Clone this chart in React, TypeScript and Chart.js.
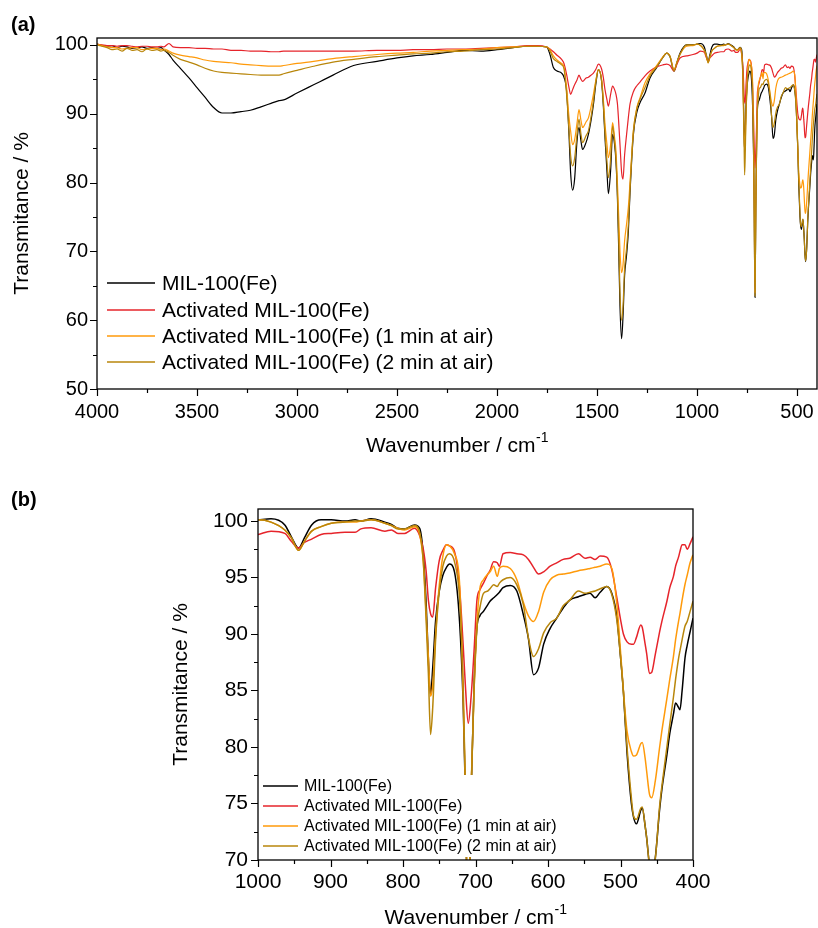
import React, { useEffect, useRef } from 'react';
import { Chart, registerables } from 'chart.js';

Chart.register(...registerables);

const FONT = '"Liberation Sans", Arial, Helvetica, sans-serif';

// ---------------- DATA ----------------
const wavenumbers = [
  4000, 3975, 3950, 3925, 3900, 3875, 3850, 3825, 3800, 3775,
  3750, 3725, 3700, 3680, 3667, 3640, 3620, 3583, 3540, 3500,
  3460, 3417, 3375, 3330, 3280, 3233, 3180, 3130, 3090, 3067,
  3000, 2917, 2820, 2717, 2600, 2500, 2420, 2333, 2250, 2167,
  2080, 2000, 1920, 1850,
  1800, 1752, 1735, 1718, 1700, 1677, 1665, 1652, 1640, 1632,
  1622, 1612, 1600, 1590, 1580, 1572, 1555, 1543, 1530, 1518,
  1505, 1493, 1477, 1468, 1460, 1450, 1443, 1432, 1422, 1412,
  1405, 1398, 1392, 1385, 1377, 1370, 1362, 1352, 1343, 1335,
  1318, 1300, 1285, 1260, 1235, 1202, 1170, 1152, 1135, 1115,
  1100, 1085, 1052, 1020,
  1000, 982, 963, 954, 944, 936, 926, 913, 899, 880,
  866, 858, 844, 825, 816, 807, 798, 784, 777, 772,
  768, 765, 762, 759, 755, 750, 745, 740, 736, 729,
  722, 717, 714, 710, 706, 702, 698, 694, 689, 683,
  680, 675, 670, 667, 662, 652, 643, 634, 627, 620,
  613, 606, 597, 588, 579, 570, 558, 549, 542, 535,
  528, 519, 512, 505, 500, 496, 491, 485, 482, 478,
  472, 470, 466, 464, 460, 457, 452, 446, 443, 436,
  432, 427, 424, 420, 418, 415, 411, 408, 404, 400,
];

const mil100 = [
  100.1, 99.9, 99.8, 99.9, 99.6, 99.8, 99.7, 99.5, 99.6, 99.7,
  99.5, 99.6, 99.5, 99.6, 99.3, 98.6, 97.8, 96.6, 95.2, 93.8,
  92.4, 90.9, 90.1, 90.1, 90.3, 90.5, 91.0, 91.5, 91.9, 92.0,
  93.0, 94.2, 95.6, 97.0, 97.6, 98.1, 98.4, 98.6, 98.9, 99.2,
  99.1, 99.3, 99.6, 99.8,
  99.8, 99.7, 98.6, 96.7, 96.2, 95.9, 95.3, 93.3, 87.0, 81.5,
  78.9, 80.5, 86.0, 88.0, 86.0, 84.8, 85.8, 87.0, 89.0, 91.3,
  94.5, 96.4, 94.7, 91.0, 86.5, 81.5, 78.4, 81.7, 87.0, 85.5,
  83.0, 78.0, 71.0, 62.0, 57.3, 60.5, 66.5, 69.5, 73.0, 78.5,
  87.0, 90.3, 91.6, 93.0, 95.2, 96.7, 98.2, 98.8, 98.3, 96.2,
  97.5, 98.8, 100.0, 100.0,
  100.1, 100.2, 99.65, 98.6, 97.6, 98.5, 99.65, 100.1, 100.1, 100.0,
  100.1, 100.0, 100.2, 99.9, 99.7, 99.35, 99.3, 99.65, 99.35, 97.0,
  92.6, 87.8, 84.6, 87.0, 91.2, 93.8, 95.2, 95.9, 96.2, 95.5,
  91.1, 83.8, 76.0, 63.3, 76.0, 85.5, 90.6, 91.6, 92.0, 92.6,
  92.9, 93.2, 93.5, 93.7, 94.1, 94.3, 93.8, 91.7, 89.6, 86.4,
  87.0, 89.1, 90.5, 91.4, 92.3, 93.0, 93.3, 93.5, 93.6, 93.2,
  93.7, 94.2, 93.6, 91.5, 88.0, 84.9, 79.5, 75.0, 73.8, 73.2,
  74.4, 74.6, 73.0, 72.0, 69.5, 68.5, 70.2, 74.5, 76.2, 79.3,
  81.2, 82.9, 83.9, 83.5, 83.3, 85.0, 87.9, 89.0, 90.2, 91.4,
];

const activated = [
  100.1, 100.0, 99.9, 99.9, 99.8, 99.9, 99.9, 99.8, 99.7, 99.8,
  99.8, 99.7, 99.7, 99.8, 99.7, 100.2, 99.7, 99.6, 99.6, 99.5,
  99.5, 99.4, 99.4, 99.2, 99.2, 99.1, 99.1, 99.0, 99.0, 99.1,
  99.1, 99.1, 99.1, 99.1, 99.2, 99.2, 99.3, 99.3, 99.4, 99.4,
  99.5, 99.6, 99.7, 99.9,
  99.9, 99.7, 99.4, 99.0, 98.5, 97.9, 97.3, 95.7, 93.8, 92.8,
  93.5, 94.2, 94.9, 95.6, 95.0, 94.7, 95.2, 95.3, 95.6, 95.9,
  96.5, 97.2, 96.5, 95.2, 93.5, 92.0, 91.1, 92.8, 94.0, 93.5,
  92.8, 91.5, 89.0, 85.5, 81.5, 80.5, 84.0, 87.0, 89.5, 91.4,
  93.2, 94.1, 94.6, 95.5, 96.2, 96.8, 97.1, 97.2, 97.0, 96.2,
  97.2, 98.1, 98.4, 98.6,
  98.8, 99.1, 98.9, 98.2, 97.6, 98.1, 98.4, 98.8, 98.9, 99.0,
  99.0, 99.3, 99.4, 99.1, 99.2, 98.9, 98.9, 99.35, 98.7, 97.5,
  95.5, 93.0, 91.8, 91.5, 94.1, 96.5, 97.4, 97.9, 97.8, 97.3,
  94.1, 89.0, 85.5, 82.1, 84.5, 88.5, 93.0, 93.9, 94.5, 95.3,
  95.6, 96.4, 96.3, 96.0, 97.1, 97.2, 97.1, 97.0, 96.6, 95.9,
  95.3, 95.5, 96.0, 96.3, 96.6, 96.7, 97.1, 96.7, 96.8, 96.6,
  96.9, 96.8, 95.7, 93.2, 91.3, 90.0, 89.3, 89.1, 89.1, 89.7,
  90.8, 90.6, 89.1, 88.3, 86.5, 86.6, 88.2, 90.2, 91.1, 92.9,
  94.1, 95.1, 96.0, 96.8, 97.3, 97.9, 97.9, 97.5, 98.0, 98.6,
];

const activated1min = [
  100.1, 99.9, 99.7, 99.6, 99.6, 99.4, 99.5, 99.6, 99.6, 99.3,
  99.4, 99.5, 99.5, 99.3, 99.4, 99.1, 98.8, 98.5, 98.3, 98.1,
  97.8, 97.6, 97.5, 97.4, 97.2, 97.1, 97.0, 96.9, 96.9, 97.0,
  97.3, 97.6, 98.0, 98.3, 98.6, 98.8, 98.9, 99.1, 99.2, 99.3,
  99.4, 99.6, 99.7, 99.8,
  99.8, 99.7, 99.3, 98.4, 97.8, 97.3, 96.8, 93.8, 89.5, 87.5,
  85.5, 86.2, 88.6, 90.6, 89.0, 88.0, 88.8, 89.4, 91.0, 92.8,
  95.0, 96.4, 95.0, 92.0, 88.5, 85.5, 83.6, 85.5, 88.7, 86.5,
  84.5, 80.0, 75.5, 70.0, 66.9, 68.0, 71.5, 74.0, 76.5, 80.0,
  87.5, 91.0, 92.3, 94.5, 95.8, 97.0, 98.3, 98.8, 98.4, 96.4,
  97.5, 98.6, 99.8, 99.9,
  100.1, 99.9, 99.2, 98.5, 97.4, 98.2, 99.1, 99.5, 99.8, 99.9,
  99.9, 100.0, 100.1, 99.8, 99.6, 99.35, 99.2, 99.5, 98.8, 96.4,
  91.7, 88.0, 84.5, 85.5, 90.0, 94.3, 96.9, 97.9, 97.8, 97.1,
  94.5, 84.5, 76.5, 64.0, 76.5, 85.0, 91.0, 94.0, 94.8, 95.3,
  95.5, 96.0, 95.1, 95.8, 96.0, 95.8, 94.8, 92.8, 91.6, 91.1,
  92.0, 93.7, 94.8, 95.2, 95.3, 95.4, 95.6, 95.7, 95.8, 95.9,
  96.0, 96.2, 95.8, 92.6, 88.5, 85.0, 81.4, 79.6, 79.2, 79.3,
  80.3, 80.4, 79.0, 77.9, 75.8, 75.5, 77.0, 80.0, 81.4, 84.3,
  86.0, 88.0, 89.5, 91.1, 91.8, 93.0, 94.4, 95.2, 96.3, 97.0,
];

const activated2min = [
  100.0, 99.8, 99.6, 99.3, 99.4, 99.1, 99.5, 99.2, 99.3, 99.0,
  99.4, 99.2, 99.3, 99.1, 99.2, 98.9, 98.5, 97.9, 97.5, 97.1,
  96.6, 96.2, 96.0, 95.9, 95.8, 95.7, 95.6, 95.6, 95.6, 95.8,
  96.3, 96.9, 97.5, 97.9, 98.3, 98.5, 98.7, 98.8, 99.0, 99.1,
  99.3, 99.4, 99.6, 99.8,
  99.8, 99.7, 99.1, 98.0, 97.6, 97.1, 96.5, 92.8, 87.5, 84.0,
  82.4, 83.5, 87.0, 89.2, 87.0, 85.8, 86.8, 87.5, 89.5, 91.8,
  94.8, 96.4, 94.9, 91.5, 87.2, 83.0, 80.7, 83.4, 88.2, 86.0,
  83.5, 78.5, 72.5, 64.0, 60.0, 62.0, 67.5, 70.5, 74.0, 79.0,
  87.5, 90.8, 92.1, 93.8, 95.5, 96.8, 98.2, 98.8, 98.3, 96.2,
  97.5, 98.6, 100.0, 100.0,
  100.1, 99.9, 99.2, 98.5, 97.4, 98.2, 99.1, 99.5, 99.8, 99.9,
  100.0, 100.0, 100.1, 99.8, 99.6, 99.3, 99.3, 99.6, 99.0, 96.4,
  91.1, 86.5, 81.1, 83.5, 89.5, 93.8, 96.0, 96.9, 97.1, 96.4,
  93.2, 85.5, 76.2, 63.5, 76.2, 85.0, 90.5, 92.3, 93.6, 93.8,
  94.0, 94.35, 94.2, 94.5, 94.8, 95.0, 94.35, 92.6, 89.65, 88.0,
  88.7, 90.1, 91.0, 91.4, 92.5, 93.0, 93.8, 93.6, 93.7, 93.8,
  94.0, 94.2, 93.5, 91.2, 88.0, 84.9, 80.0, 75.5, 73.9, 73.6,
  74.6, 74.7, 73.0, 72.0, 69.5, 68.6, 70.1, 74.8, 76.5, 80.0,
  82.0, 84.4, 86.0, 87.8, 88.5, 89.5, 90.7, 91.1, 92.0, 92.9,
];

const seriesLabels = [
  'MIL-100(Fe)',
  'Activated MIL-100(Fe)',
  'Activated MIL-100(Fe) (1 min at air)',
  'Activated MIL-100(Fe) (2 min at air)',
];
const seriesValues = [mil100, activated, activated1min, activated2min];
const seriesColors = ['#000000', '#e6242b', '#ff9a0a', '#b8860b'];

const xTicksA = [4000, 3750, 3500, 3250, 3000, 2750, 2500, 2250, 2000, 1750, 1500, 1250, 1000, 750, 500];
const yTicksA = [50, 55, 60, 65, 70, 75, 80, 85, 90, 95, 100];
const xTicksB = [1000, 950, 900, 850, 800, 750, 700, 650, 600, 550, 500, 450, 400];
const yTicksB = [70, 72.5, 75, 77.5, 80, 82.5, 85, 87.5, 90, 92.5, 95, 97.5, 100];

const xTitle = 'Wavenumber / cm';
const xTitleSup = '-1';
const yTitle = 'Transmitance / %';

// ---------------- PANELS ----------------
type PanelCfg = {
  id: string;
  tag: string;
  tagX: number;
  tagY: number;
  top: number;
  height: number;
  left: number;
  right: number;
  areaTop: number;
  areaBottom: number;
  xMin: number;
  xMax: number;
  yMin: number;
  yMax: number;
  xTicks: number[];
  yTicks: number[];
  xLabelEvery: number;
  yLabelEvery: number;
  tickFont: number;
  xPad: number;
  yPad: number;
  lineWidth: number;
  titleFont: number;
  xTitleY: number;
  yTitleX: number;
  legendX: number;
  legendLen: number;
  legendTextX: number;
  legendRows: number[];
  legendFont: number;
  legendBox: number[] | null;
};

const W = 818;

const panelA: PanelCfg = {
  id: 'a', tag: '(a)', tagX: 11, tagY: 25,
  top: 0, height: 470,
  left: 97, right: 817, areaTop: 38, areaBottom: 389,
  xMin: 400, xMax: 4000, yMin: 50, yMax: 101,
  xTicks: xTicksA, yTicks: yTicksA, xLabelEvery: 500, yLabelEvery: 10,
  tickFont: 20, xPad: 11, yPad: 9, lineWidth: 1.2,
  titleFont: 21, xTitleY: 446, yTitleX: 22,
  legendX: 107, legendLen: 48, legendTextX: 162, legendRows: [283, 310, 336, 362], legendFont: 21,
  legendBox: null,
};

const panelB: PanelCfg = {
  id: 'b', tag: '(b)', tagX: 11, tagY: 30,
  top: 470, height: 458,
  left: 258, right: 693, areaTop: 39, areaBottom: 390,
  xMin: 400, xMax: 1000, yMin: 70, yMax: 101.06,
  xTicks: xTicksB, yTicks: yTicksB, xLabelEvery: 100, yLabelEvery: 5,
  tickFont: 21, xPad: 10, yPad: 10, lineWidth: 1.5,
  titleFont: 21, xTitleY: 448, yTitleX: 181,
  legendX: 263, legendLen: 35, legendTextX: 304, legendRows: [316, 336, 356, 376], legendFont: 16,
  legendBox: [259, 305, 310, 82],
};

function makeDecor(cfg: PanelCfg) {
  return {
    id: 'decor_' + cfg.id,
    afterDatasetsDraw(chart: any) {
      const ctx = chart.ctx as CanvasRenderingContext2D;
      ctx.save();
      if (cfg.legendBox) {
        ctx.fillStyle = '#ffffff';
        ctx.fillRect(cfg.legendBox[0], cfg.legendBox[1], cfg.legendBox[2], cfg.legendBox[3]);
      }
      ctx.font = `${cfg.legendFont}px ${FONT}`;
      ctx.textBaseline = 'middle';
      ctx.textAlign = 'left';
      seriesLabels.forEach((lab, i) => {
        const y = cfg.legendRows[i];
        ctx.strokeStyle = seriesColors[i];
        ctx.lineWidth = 1.6;
        ctx.beginPath();
        ctx.moveTo(cfg.legendX, y);
        ctx.lineTo(cfg.legendX + cfg.legendLen, y);
        ctx.stroke();
        ctx.fillStyle = '#000';
        ctx.fillText(lab, cfg.legendTextX, y + 1);
      });
      ctx.restore();
    },
    afterDraw(chart: any) {
      const ctx = chart.ctx as CanvasRenderingContext2D;
      const a = chart.chartArea;
      ctx.save();
      ctx.strokeStyle = '#000';
      ctx.lineWidth = 1.3;
      ctx.strokeRect(a.left, a.top, a.right - a.left, a.bottom - a.top);
      const xs = chart.scales.x;
      const ys = chart.scales.y;
      ctx.lineWidth = 1.2;
      ctx.beginPath();
      xs.ticks.forEach((t: any) => {
        const px = Math.round(xs.getPixelForValue(t.value)) + 0.5;
        const len = t.label ? 7 : 4;
        ctx.moveTo(px, a.bottom);
        ctx.lineTo(px, a.bottom + len);
      });
      ys.ticks.forEach((t: any) => {
        const py = Math.round(ys.getPixelForValue(t.value)) + 0.5;
        const len = t.label ? 7 : 4;
        ctx.moveTo(a.left, py);
        ctx.lineTo(a.left - len, py);
      });
      ctx.stroke();

      // titles
      const tf = cfg.titleFont;
      const sf = Math.round(tf * 0.65);
      ctx.fillStyle = '#000';
      ctx.textBaseline = 'middle';
      ctx.textAlign = 'left';
      ctx.font = `${tf}px ${FONT}`;
      const mainW = ctx.measureText(xTitle).width;
      ctx.font = `${sf}px ${FONT}`;
      const supW = ctx.measureText(xTitleSup).width;
      const cx = (a.left + a.right) / 2;
      const startX = cx - (mainW + supW) / 2;
      ctx.font = `${tf}px ${FONT}`;
      ctx.fillText(xTitle, startX, cfg.xTitleY);
      ctx.font = `${sf}px ${FONT}`;
      ctx.fillText(xTitleSup, startX + mainW + 0.5, cfg.xTitleY - 8);

      ctx.save();
      ctx.translate(cfg.yTitleX, (a.top + a.bottom) / 2);
      ctx.rotate(-Math.PI / 2);
      ctx.font = `${tf}px ${FONT}`;
      ctx.textAlign = 'center';
      ctx.fillText(yTitle, 0, 0);
      ctx.restore();

      ctx.font = `bold 20px ${FONT}`;
      ctx.textAlign = 'left';
      ctx.fillText(cfg.tag, cfg.tagX, cfg.tagY);
      ctx.restore();
    },
  };
}

function Panel({ cfg }: { cfg: PanelCfg }) {
  const ref = useRef<HTMLCanvasElement | null>(null);
  useEffect(() => {
    if (!ref.current) return;
    const order = [3, 2, 1, 0];
    const datasets = seriesLabels.map((lab, i) => ({
      label: lab,
      data: wavenumbers.map((w, k) => ({ x: w, y: seriesValues[i][k] })),
      borderColor: seriesColors[i],
      backgroundColor: seriesColors[i],
      borderWidth: cfg.lineWidth,
      pointRadius: 0,
      fill: false,
      tension: 0,
      cubicInterpolationMode: 'monotone' as const,
      order: order[i],
    }));
    const chart = new Chart(ref.current, {
      type: 'line',
      data: { datasets },
      plugins: [makeDecor(cfg)],
      options: {
        animation: false,
        responsive: false,
        maintainAspectRatio: false,
        devicePixelRatio: 1,
        layout: {
          padding: { left: 0, top: cfg.areaTop, right: W - cfg.right, bottom: 0 },
        },
        plugins: {
          legend: { display: false },
          tooltip: { enabled: false },
          title: { display: false },
        },
        scales: {
          x: {
            type: 'linear',
            reverse: true,
            min: cfg.xMin,
            max: cfg.xMax,
            border: { display: false },
            grid: { display: false, drawTicks: false },
            afterBuildTicks: (s: any) => {
              s.ticks = cfg.xTicks.map((v) => ({ value: v }));
            },
            afterFit: (s: any) => {
              s.height = cfg.height - cfg.areaBottom;
              s.paddingLeft = 0;
              s.paddingRight = 0;
            },
            ticks: {
              autoSkip: false,
              maxRotation: 0,
              minRotation: 0,
              padding: cfg.xPad,
              color: '#000',
              font: { family: FONT, size: cfg.tickFont },
              callback: (v: any) => (Number(v) % cfg.xLabelEvery === 0 ? String(v) : ''),
            },
          },
          y: {
            type: 'linear',
            min: cfg.yMin,
            max: cfg.yMax,
            border: { display: false },
            grid: { display: false, drawTicks: false },
            afterBuildTicks: (s: any) => {
              s.ticks = cfg.yTicks.map((v) => ({ value: v }));
            },
            afterFit: (s: any) => {
              s.width = cfg.left;
              s.paddingTop = 0;
              s.paddingBottom = 0;
            },
            ticks: {
              autoSkip: false,
              padding: cfg.yPad,
              color: '#000',
              font: { family: FONT, size: cfg.tickFont },
              callback: (v: any) => (Number(v) % cfg.yLabelEvery === 0 ? String(v) : ''),
            },
          },
        },
      },
    } as any);
    return () => chart.destroy();
  }, [cfg]);
  return (
    <div style={{ position: 'absolute', left: 0, top: cfg.top, width: W, height: cfg.height }}>
      <canvas ref={ref} width={W} height={cfg.height} style={{ width: W, height: cfg.height, display: 'block' }} />
    </div>
  );
}

export default function App() {
  return (
    <div style={{ position: 'fixed', left: 0, top: 0, width: W, height: 928, background: '#fff', overflow: 'hidden' }}>
      <Panel cfg={panelA} />
      <Panel cfg={panelB} />
    </div>
  );
}
